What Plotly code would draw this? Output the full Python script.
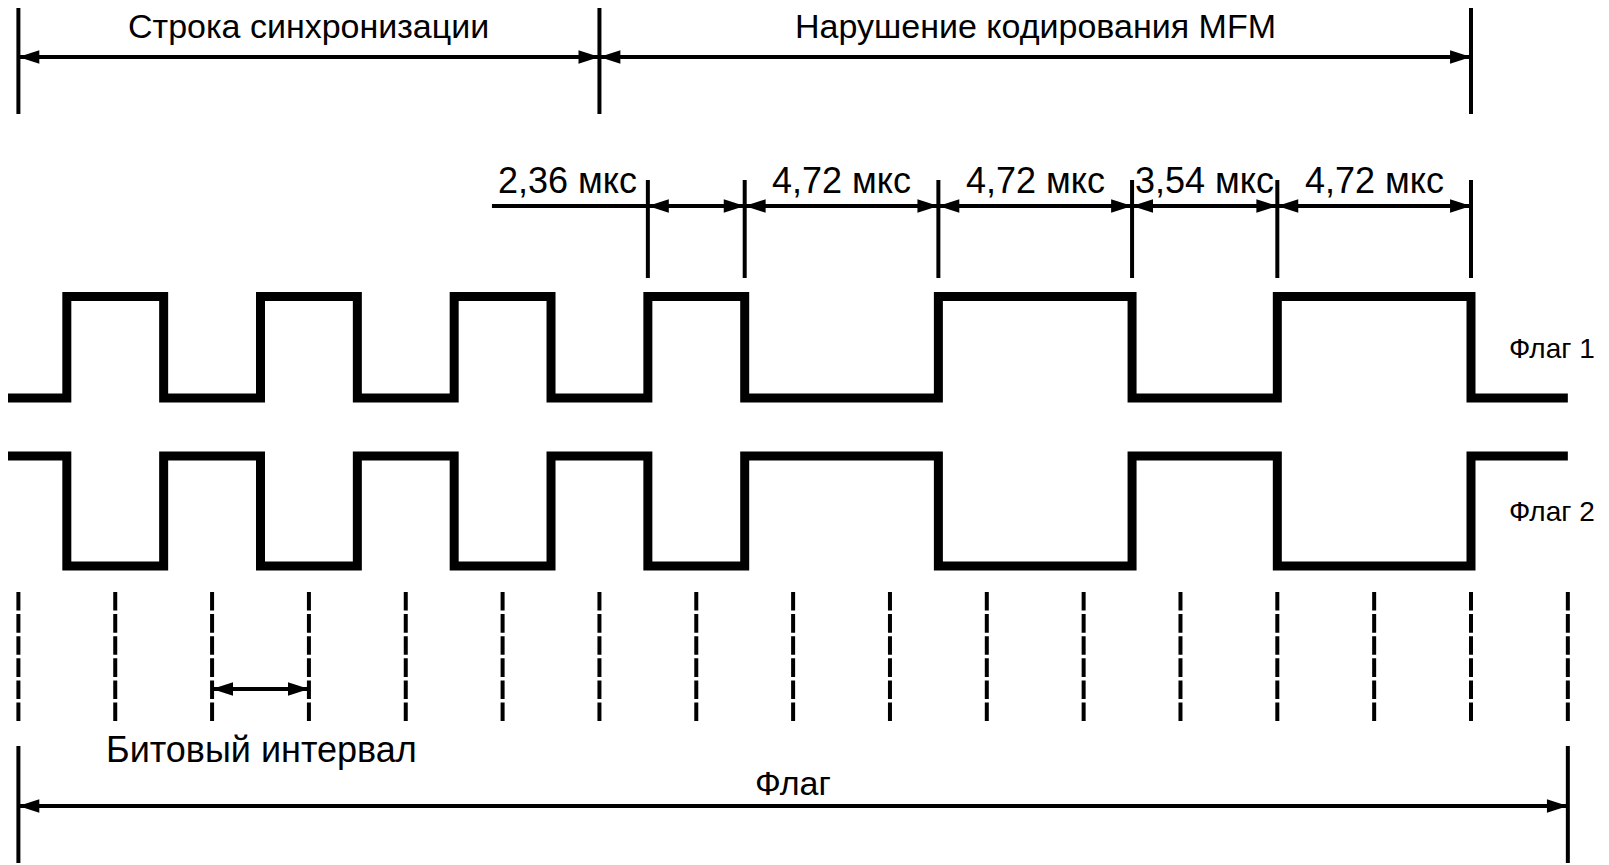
import plotly.graph_objects as go

# time in bit intervals (1 bit = 2,36 мкс)
bit_marks = list(range(17))
flag1_times = [-0.13, 0.5, 1.5, 2.5, 3.5, 4.5, 5.5, 6.5, 7.5, 9.5, 11.5, 13, 15, 16.0]
flag1_levels = [0, 1, 0, 1, 0, 1, 0, 1, 0, 1, 0, 1, 0, 0]
flag2_levels = [1, 0, 1, 0, 1, 0, 1, 0, 1, 0, 1, 0, 1, 1]

dim_edges = [6.5, 7.5, 9.5, 11.5, 13, 15]
dim_labels = ["2,36 мкс", "4,72 мкс", "4,72 мкс", "3,54 мкс", "4,72 мкс"]

section_edges = [0, 6, 15]
section_labels = ["Строка синхронизации", "Нарушение кодирования MFM"]

flag_span = [0, 16]
bit_span = [2, 3]

# layout (pixel rows, y measured from top)
W, H = 1609, 865
X0_PX, BIT_PX = 10.4, 96.84
FONT = "Liberation Sans, Arial, sans-serif"
BLACK = "black"

fig = go.Figure()


def vline(x, y0, y1, width=4, dash=None):
    fig.add_shape(type="line", x0=x, x1=x, y0=y0, y1=y1, xref="x", yref="y",
                  line=dict(color=BLACK, width=width, dash=dash))


def dim_arrow(x0, x1, y):
    fig.add_trace(go.Scatter(x=[x0, x1], y=[y, y], mode="lines+markers",
                             line=dict(color=BLACK, width=4),
                             marker=dict(symbol="arrow", size=22, angle=[-90, 90],
                                         color=BLACK, line=dict(width=0)),
                             showlegend=False, hoverinfo="skip"))


def label(x, y, text, size, xanchor="center", xshift=0):
    fig.add_annotation(x=x, y=y, text=text, showarrow=False, xanchor=xanchor,
                       yanchor="middle", xshift=xshift, borderpad=0,
                       font=dict(family=FONT, size=size, color=BLACK))


# top: sections
for e in section_edges:
    vline(e, 0, 106)
for i, txt in enumerate(section_labels):
    dim_arrow(section_edges[i], section_edges[i + 1], 49)
    label((section_edges[i] + section_edges[i + 1]) / 2, 18, txt, 34)

# durations
for e in dim_edges:
    vline(e, 172, 270)
fig.add_trace(go.Scatter(x=[4.89, dim_edges[0]], y=[198, 198], mode="lines",
                         line=dict(color=BLACK, width=4), showlegend=False, hoverinfo="skip"))
for i, txt in enumerate(dim_labels):
    dim_arrow(dim_edges[i], dim_edges[i + 1], 198)
    if i == 0:
        label(dim_edges[0], 172, txt, 36, xanchor="right", xshift=-10)
    else:
        label((dim_edges[i] + dim_edges[i + 1]) / 2, 172, txt, 36)

# waveforms
for levels, high, low, name, dy in [(flag1_levels, 288.5, 390, "Флаг 1", 1),
                                    (flag2_levels, 448, 558, "Флаг 2", 0)]:
    ys = [low - lv * (low - high) for lv in levels]
    fig.add_trace(go.Scatter(x=flag1_times, y=ys, mode="lines", line_shape="hv",
                             line=dict(color=BLACK, width=9),
                             showlegend=False, hoverinfo="skip"))
    label(15.38, (high + low) / 2 + dy, name, 28, xanchor="left")

# bit grid
for b in bit_marks:
    vline(b, 584, 713, width=4, dash="18.6px,3.5px")
dim_arrow(bit_span[0], bit_span[1], 681)
label(0.89, 741, "Битовый интервал", 36, xanchor="left")

# bottom: whole flag
for e in flag_span:
    vline(e, 738, 855)
dim_arrow(flag_span[0], flag_span[1], 798)
label(8.0, 775, "Флаг", 34)

fig.update_layout(
    width=W, height=H, margin=dict(l=0, r=0, t=0, b=0),
    paper_bgcolor="white", plot_bgcolor="white",
    xaxis=dict(range=[-X0_PX / BIT_PX, (W - X0_PX) / BIT_PX], visible=False, fixedrange=True),
    yaxis=dict(range=[H, 0], visible=False, fixedrange=True),
)
fig.write_html("out.html")
